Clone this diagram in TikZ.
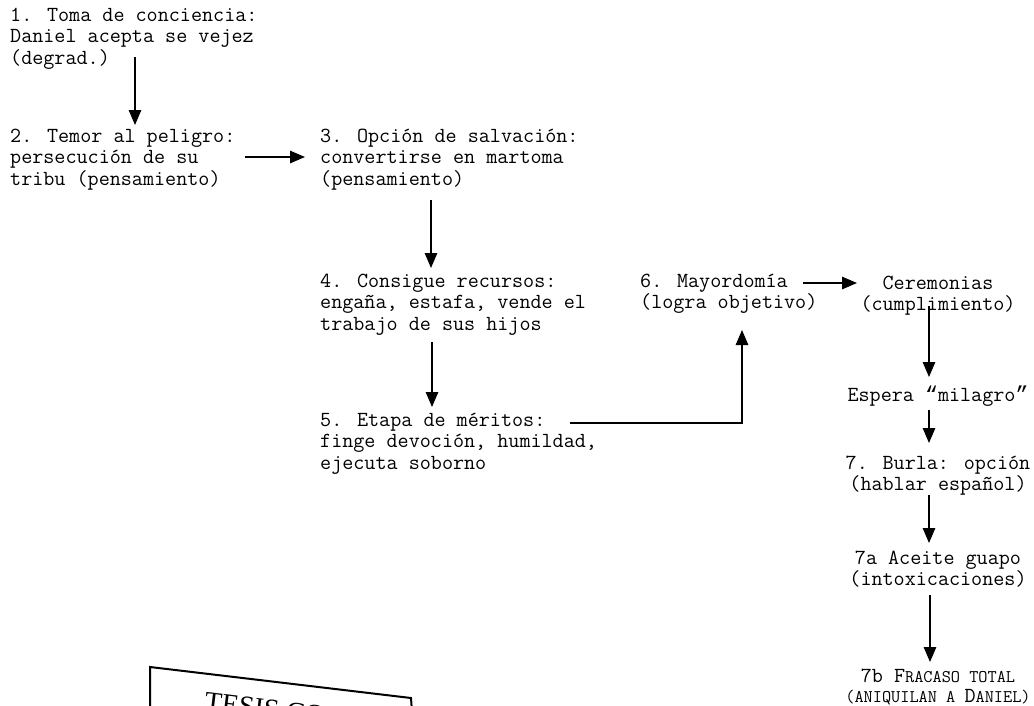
\documentclass[tikz,border=0pt]{standalone}
\usepackage{fontspec}
\setmainfont{Liberation Serif}
\newfontfamily\qf{Liberation Mono}
\usetikzlibrary{arrows.meta,calc}
\newcommand{\fl}{\rule{0pt}{16pt}}
\newcommand{\sm}[1]{{\fontsize{17.8}{20}\selectfont #1}}
\tikzset{
  txt/.style={inner sep=0pt, font=\ttfamily\fontsize{21.5}{21.5}\selectfont},
  ltxt/.style={txt, anchor=north west, align=left},
  ctxt/.style={txt, anchor=north, align=center},
  arr/.style={line width=1.3pt, -{Triangle[length=15pt,width=12.5pt]}},
  stamp/.style={line width=2pt}
}
\begin{document}
\begin{tikzpicture}[x=1pt,y=-1pt]
\useasboundingbox (0,0) rectangle (1034,705);
\clip (0,0) rectangle (1034,705);
\fill[white] (0,0) rectangle (1034,705);

\node[ltxt] (n1) at (10,5) {\fl 1. Toma de conciencia:\\Daniel acepta se vejez\\(degrad.)};
\node[ltxt] (n2) at (10,126) {\fl 2. Temor al peligro:\\persecución de su\\tribu (pensamiento)};
\node[ltxt] (n3) at (320,126) {\fl 3. Opción de salvación:\\convertirse en martoma\\(pensamiento)};
\node[ltxt] (n4) at (320,271) {\fl 4. Consigue recursos:\\engaña, estafa, vende el\\trabajo de sus hijos};
\node[ltxt] (n5) at (320,410) {\fl 5. Etapa de méritos:\\finge devoción, humildad,\\ejecuta soborno};
\node[ltxt] (n6) at (640,271) {\fl 6. Mayordomía\\(logra objetivo)};
\node[ctxt] (nC) at (938,273) {\fl Ceremonias\\(cumplimiento)};
\node[ctxt] (nE) at (938,385) {\fl Espera {\qf“}milagro{\qf”}};
\node[ctxt] (n7) at (938,453) {\fl 7. Burla: opción\\(hablar español)};
\node[ctxt] (n7a) at (938,548) {\fl 7a Aceite guapo\\(intoxicaciones)};
\node[ctxt, font=\ttfamily\fontsize{21.5}{20}\selectfont] (n7b) at (938,666) {\fl 7b F\sm{RACASO TOTAL}\\\sm{(ANIQUILAN A }D\sm{ANIEL)}};

\draw[arr] ($(n1.north west)+(125,52)$) -- ($(n2.north west)+(125,-1)$);
\draw[arr] ($(n2.north west)+(235,31)$) -- ($(n3.north west)+(-15,31)$);
\draw[arr] ($(n3.north west)+(111,74)$) -- ($(n4.north west)+(111,-3)$);
\draw[arr] ($(n4.north west)+(112,71)$) -- ($(n5.north west)+(112,-3)$);
\draw[arr] ($(n5.north west)+(250,13)$) -| ($(n6.north west)+(102,59)$);
\draw[arr] ($(n6.north west)+(163,12)$) -- ($(nC.north)+(-81,10)$);
\draw[arr] ($(nC.north)+(-9,33)$) -- ($(nE.north)+(-9,-8)$);
\draw[arr] ($(nE.north)+(-9,25)$) -- ($(n7.north)+(-9,-10)$);
\draw[arr] ($(n7.north)+(-9,42)$) -- ($(n7a.north)+(-9,-5)$);
\draw[arr] ($(n7a.north)+(-8,47)$) -- ($(n7b.north)+(-8,-4)$);

% stamp at bottom left
\coordinate (s0) at (150,712);
\coordinate (s1) at (150,667);
\coordinate (s2) at (411,698);
\coordinate (s3) at (412,712);
\draw[stamp] (s0) -- (s1) -- (s2) -- (s3);
\node[anchor=north west, inner sep=0pt, rotate=-6.8, font=\fontsize{28}{30}\selectfont] (st) at (206,692) {TESIS CO};
\end{tikzpicture}
\end{document}
